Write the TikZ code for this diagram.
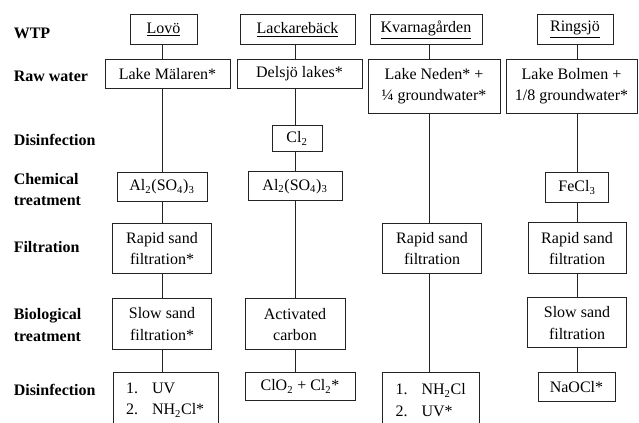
\documentclass[tikz,border=0pt]{standalone}
\usepackage{fontspec}
\setmainfont{Liberation Serif}
\definecolor{myline}{RGB}{35,35,35}
\tikzset{
  procbox/.style 2 args={rectangle, draw=myline, line width=0.75pt,
    align=center, anchor=north, inner sep=2pt,
    minimum width=#1*0.75pt, minimum height=#2*0.75pt,
    font=\fontsize{12}{16}\selectfont},
  listbox/.style 2 args={procbox={#1}{#2}, align=left, inner xsep=9.75pt},
  rowlabel/.style={anchor=west, align=left, inner sep=0pt,
    font=\fontsize{12}{16}\selectfont\bfseries},
  link/.style={draw=myline, line width=0.75pt}
}
\newcommand{\itemno}[1]{\makebox[19.5pt][l]{#1}}

\begin{document}
\begin{tikzpicture}[x=0.75pt, y=-0.75pt]
  \useasboundingbox (0,0) rectangle (639,423);

  % row labels
  \node[rowlabel] (lbwtp)  at (13.5,33)    {WTP};
  \node[rowlabel] (lbraw)  at (13.5,76)    {Raw water};
  \node[rowlabel] (lbdis1) at (13.5,140)   {Disinfection};
  \node[rowlabel] (lbchem) at (13.5,189.5) {Chemical\\treatment};
  \node[rowlabel] (lbfilt) at (13.5,247)   {Filtration};
  \node[rowlabel] (lbbio)  at (13.5,325)   {Biological\\treatment};
  \node[rowlabel] (lbdis2) at (13.5,390)   {Disinfection};

  % column lines
  \coordinate (lineA) at (162,0);
  \coordinate (lineB) at (295,0);
  \coordinate (lineC) at (429,0);
  \coordinate (lineD) at (577,0);

  % Lovo
  \node[procbox={67}{29.5}] (wtpA) at (163.5,14.5) {\underline{Lovö}};
  \node[procbox={125}{29}] (rawA) at (167.5,59) {Lake Mälaren*};
  \node[procbox={90}{29}] (chemA) at (162,172) {Al\textsubscript{2}(SO\textsubscript{4})\textsubscript{3}};
  \node[procbox={99}{50}] (filtA) at (162,223) {Rapid sand\\filtration*};
  \node[procbox={99}{51}] (bioA) at (162,298) {Slow sand\\filtration*};
  \node[listbox={105}{55}, text width=59.25pt] (disA) at (165.5,372)
    {\itemno{1.}UV\\\itemno{2.}NH\textsubscript{2}Cl*};

  % Lackareback
  \node[procbox={115}{29.5}] (wtpB) at (297.5,14.5) {\underline{Lackarebäck}};
  \node[procbox={125}{29}] (rawB) at (299.5,59) {Delsjö lakes*};
  \node[procbox={50}{26}] (clB) at (297,125) {Cl\textsubscript{2}};
  \node[procbox={94}{29}] (chemB) at (295,171.5) {Al\textsubscript{2}(SO\textsubscript{4})\textsubscript{3}};
  \node[procbox={100}{51}] (bioB) at (295,298.5) {Activated\\carbon};
  \node[procbox={110}{28}] (disB) at (300,372) {ClO\textsubscript{2} + Cl\textsubscript{2}*};

  % Kvarnagarden
  \node[procbox={112}{29.5}] (wtpC) at (426,14.5) {\underline{Kvarnagården}};
  \node[procbox={132}{54}] (rawC) at (434,59) {Lake Neden* +\\¼ groundwater*};
  \node[procbox={99}{50}] (filtC) at (432,223) {Rapid sand\\filtration};
  \node[listbox={97}{55}, text width=53.25pt] (disC) at (431,372)
    {\itemno{1.}NH\textsubscript{2}Cl\\\itemno{2.}UV*};

  % Ringsjo
  \node[procbox={76}{29.5}] (wtpD) at (575,14.5) {\underline{Ringsjö}};
  \node[procbox={131}{54}] (rawD) at (571.5,59) {Lake Bolmen +\\1/8 groundwater*};
  \node[procbox={63}{30}] (chemD) at (577,172) {FeCl\textsubscript{3}};
  \node[procbox={98}{50.5}] (filtD) at (577,222.5) {Rapid sand\\filtration};
  \node[procbox={99}{50}] (bioD) at (577,297.5) {Slow sand\\filtration};
  \node[procbox={77}{29}] (disD) at (576.5,372) {NaOCl*};

  % connections
  \foreach \c/\a/\b in {lineA/wtpA/rawA, lineA/rawA/chemA, lineA/chemA/filtA,
      lineA/filtA/bioA, lineA/bioA/disA,
      lineB/wtpB/rawB, lineB/rawB/clB, lineB/clB/chemB, lineB/chemB/bioB,
      lineB/bioB/disB,
      lineC/wtpC/rawC, lineC/rawC/filtC, lineC/filtC/disC,
      lineD/wtpD/rawD, lineD/rawD/chemD, lineD/chemD/filtD,
      lineD/filtD/bioD, lineD/bioD/disD}
    \draw[link] (\a.south -| \c) -- (\b.north -| \c);
\end{tikzpicture}
\end{document}
